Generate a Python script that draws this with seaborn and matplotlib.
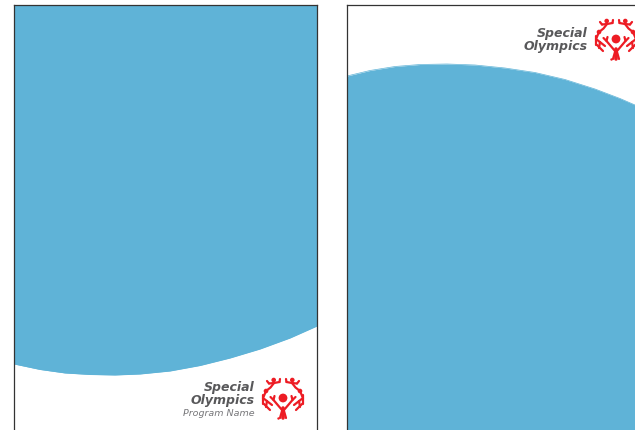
import matplotlib
matplotlib.use("Agg")
import matplotlib.pyplot as plt
import seaborn as sns

sns.set_style("white")

left_x = [14, 40, 65, 90, 115, 140, 170, 200, 230, 260, 290, 317]
left_y = [365, 370.5, 374, 375.5, 376, 375, 372, 366.5, 359, 350, 339, 327]
right_x = [347, 370, 395, 420, 447, 475, 505, 535, 565, 595, 620, 635]
right_y = [77, 71.5, 67.5, 65.5, 65, 66, 69, 73.5, 80.5, 90, 99.5, 106]

brand_lines = ["Special", "Olympics"]
program_name = "Program Name"

BLUE = "#5FB3D7"
RED = "#ED1C24"
GREY = "#58585A"
FRAME = "#333333"

# trazos del emblema, lado izquierdo (dx, dy desde la cabeza central)
emblem_side = [
    [(-14, -14.5), (-9, -15), (-3.5, -16)],
    [(-3.5, -16), (-3, -19)],
    [(-14, -14.5), (-16, -17)],
    [(-9, -15), (-12.5, -10.5), (-17, -7)],
    [(-17, -7), (-19.5, -1)],
    [(-20, 0), (-11, 7)],
    [(-19, 6), (-13, 12)],
    [(-20, -3), (-20, 6)],
    [(-16, 3), (-17, 9)],
    [(-9.5, 2), (-1, 12)],
    [(-12.5, -1), (-9.5, 2), (-8.5, -2)],
    [(-1, 13), (-3, 20)],
]
emblem_dots = [(0, 0), (-17, -7), (-9.3, -18), (17, -7), (9.3, -18)]


def draw_emblem(ax, cx, cy):
    for seg in emblem_side:
        xs = [p[0] for p in seg]
        ys = [p[1] for p in seg]
        ax.plot([cx + v for v in xs], [cy + v for v in ys], color=RED, lw=1.6,
                solid_capstyle="round")
        ax.plot([cx - v for v in xs], [cy + v for v in ys], color=RED, lw=1.6,
                solid_capstyle="round")
    ax.plot([cx, cx], [cy + 10, cy + 20], color=RED, lw=2.6)
    ax.scatter([cx + d[0] for d in emblem_dots], [cy + d[1] for d in emblem_dots],
               s=[40, 11, 11, 11, 11], color=RED, linewidths=0, zorder=3)
    ax.scatter([cx - 5], [cy + 20], s=3, color=RED, linewidths=0)


def draw_brand(ax, x, ys):
    for name, y in zip(brand_lines, ys):
        ax.text(x, y, name, ha="right", va="center", fontsize=9, style="italic",
                fontweight="bold", color=GREY, family="DejaVu Sans")


fig = plt.figure(figsize=(6.35, 4.31), dpi=100)
ax1 = fig.add_axes([14 / 635, 0, 303 / 635, 425 / 431])
ax2 = fig.add_axes([347 / 635, 0, 288 / 635, 425 / 431])

# pagina izquierda: azul por encima de la curva
sns.lineplot(x=left_x, y=left_y, ax=ax1, color=BLUE, lw=0.5)
ax1.fill_between(left_x, 6, left_y, color=BLUE, lw=0)
ax1.set_xlim(14, 317)
ax1.set_ylim(431, 6)

# pagina derecha: azul por debajo de la curva
sns.lineplot(x=right_x, y=right_y, ax=ax2, color=BLUE, lw=0.5)
ax2.fill_between(right_x, right_y, 431, color=BLUE, lw=0)
ax2.set_xlim(347, 635)
ax2.set_ylim(431, 6)

for ax in (ax1, ax2):
    ax.set_xticks([])
    ax.set_yticks([])
    ax.set_xlabel("")
    ax.set_ylabel("")
    for s in ax.spines.values():
        s.set_color(FRAME)
        s.set_linewidth(0.9)
    ax.spines["bottom"].set_visible(False)
ax2.spines["right"].set_visible(False)

draw_brand(ax1, 254.5, [388, 401])
ax1.text(254.5, 413.5, program_name, ha="right", va="center", fontsize=6.8,
         style="italic", color="#77777A", family="DejaVu Sans")
draw_emblem(ax1, 283, 399)

draw_brand(ax2, 588, [33, 46])
draw_emblem(ax2, 616, 40)

fig.savefig("out.png", dpi=100)
